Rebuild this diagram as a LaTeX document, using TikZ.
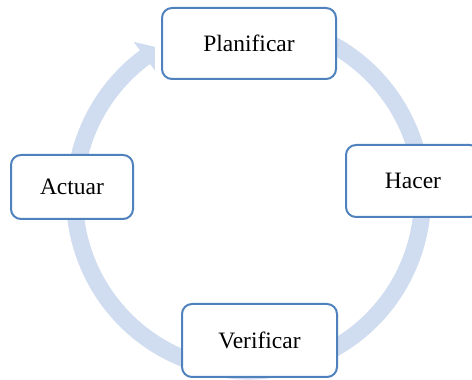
\documentclass[tikz,border=0pt]{standalone}
\usepackage{fontspec}
\setmainfont{Liberation Serif}
\definecolor{boxline}{RGB}{79,129,189}
\definecolor{ringfill}{RGB}{208,220,239}
\begin{document}
\begin{tikzpicture}[x=1pt,y=1pt,
  stagebox/.style={draw=boxline, line width=2pt, fill=white, rounded corners=10pt,
    inner sep=0pt, font=\fontsize{23.5}{28}\selectfont, text=black},
  ringband/.style={fill=ringfill}]
  \useasboundingbox (0,0) rectangle (472,380);
  \clip (0,0) rectangle (472,380);

  % cycle ring with its arrow head, drawn clockwise
  \begin{scope}[shift={(248.5,183)}]
    \fill[ringband] (70:182.5) arc[start angle=70, end angle=-233.5, radius=182.5]
      -- (-233.5:193) -- (-238.1:176.8) -- (-233.5:157.5) -- (-233.5:165.5)
      arc[start angle=-233.5, end angle=70, radius=165.5] -- cycle;
  \end{scope}

  % the four stages
  \node[stagebox, minimum width=174pt, minimum height=71pt] (plan) at (249,336.5) {Planificar};
  \node[stagebox, minimum width=134pt, minimum height=72pt] (hacer) at (413,199) {Hacer};
  \node[stagebox, minimum width=155pt, minimum height=73pt] (verif) at (259.5,39.5) {Verificar};
  \node[stagebox, minimum width=122pt, minimum height=64pt] (actuar) at (72,193) {Actuar};
\end{tikzpicture}
\end{document}
